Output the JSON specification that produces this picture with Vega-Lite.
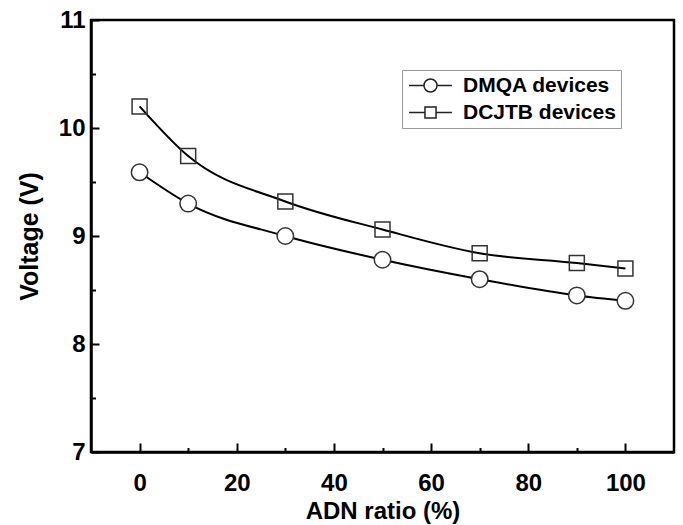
{
  "$schema": "https://vega.github.io/schema/vega-lite/v6.json",
  "autosize": {"type": "none"},
  "padding": {"left": 91, "top": 20, "right": 9, "bottom": 73},
  "width": 583,
  "height": 432,
  "background": "white",
  "config": {
    "view": {"stroke": "black", "strokeWidth": 2.5},
    "font": "Liberation Sans",
    "axis": {
      "zindex": 2,
      "ticks": true,
      "tickOpacity": 1,
      "tickColor": "black",
      "tickWidth": 2,
      "domainColor": "black",
      "domainWidth": 2.5,
      "grid": false,
      "labelFont": "Liberation Sans",
      "labelFontWeight": "bold",
      "labelFontSize": 24,
      "labelColor": "black",
      "titleFont": "Liberation Sans",
      "titleFontWeight": "bold",
      "titleFontSize": 24,
      "titleColor": "black"
    }
  },
  "data": {
    "values": [
      {"ratio": 0, "voltage": 9.59, "series": "DMQA devices"},
      {"ratio": 10, "voltage": 9.3, "series": "DMQA devices"},
      {"ratio": 30, "voltage": 9.0, "series": "DMQA devices"},
      {"ratio": 50, "voltage": 8.78, "series": "DMQA devices"},
      {"ratio": 70, "voltage": 8.6, "series": "DMQA devices"},
      {"ratio": 90, "voltage": 8.45, "series": "DMQA devices"},
      {"ratio": 100, "voltage": 8.4, "series": "DMQA devices"},
      {"ratio": 0, "voltage": 10.2, "series": "DCJTB devices"},
      {"ratio": 10, "voltage": 9.74, "series": "DCJTB devices"},
      {"ratio": 30, "voltage": 9.32, "series": "DCJTB devices"},
      {"ratio": 50, "voltage": 9.06, "series": "DCJTB devices"},
      {"ratio": 70, "voltage": 8.84, "series": "DCJTB devices"},
      {"ratio": 90, "voltage": 8.75, "series": "DCJTB devices"},
      {"ratio": 100, "voltage": 8.7, "series": "DCJTB devices"}
    ]
  },
  "encoding": {
    "x": {
      "field": "ratio",
      "type": "quantitative",
      "scale": {"domain": [-10, 110], "nice": false, "zero": false},
      "axis": {
        "title": "ADN ratio (%)",
        "values": [0, 10, 20, 30, 40, 50, 60, 70, 80, 90, 100],
        "labelExpr": "datum.value % 20 === 0 ? datum.label : ''",
        "ticks": true,
        "tickSize": -9,
        "tickDash": {"condition": {"test": "datum.value % 20 === 0", "value": [20, 0]}, "value": [4.5, 20]},
        "labelPadding": 28,
        "titlePadding": 4
      }
    },
    "y": {
      "field": "voltage",
      "type": "quantitative",
      "scale": {"domain": [7, 11], "nice": false, "zero": false},
      "axis": {
        "title": "Voltage (V)",
        "values": [7, 7.5, 8, 8.5, 9, 9.5, 10, 10.5, 11],
        "labelExpr": "datum.value % 1 === 0 ? format(datum.value, 'd') : ''",
        "ticks": true,
        "tickSize": -8,
        "tickDash": {"condition": {"test": "datum.value % 1 === 0", "value": [20, 0]}, "value": [4.5, 20]},
        "labelPadding": 14,
        "titlePadding": 16,
        "titleFontSize": 25
      }
    }
  },
  "layer": [
    {
      "mark": {"type": "line", "interpolate": "monotone", "color": "black", "strokeWidth": 2},
      "encoding": {"detail": {"field": "series"}}
    },
    {
      "mark": {"type": "point", "stroke": "#333", "strokeWidth": 1.5, "opacity": 1},
      "encoding": {
        "shape": {
          "field": "series",
          "scale": {"domain": ["DMQA devices", "DCJTB devices"], "range": ["circle", "square"]},
          "legend": null
        },
        "size": {
          "field": "series",
          "scale": {"domain": ["DMQA devices", "DCJTB devices"], "range": [272, 225]},
          "legend": null
        },
        "fill": {
          "field": "series",
          "scale": {"domain": ["DMQA devices", "DCJTB devices"], "range": ["white", "transparent"]},
          "legend": null
        }
      }
    },
    {
      "mark": {"type": "point", "opacity": 0},
      "encoding": {
        "shape": {
          "field": "series",
          "scale": {
            "domain": ["DMQA devices", "DCJTB devices"],
            "range": [
              "M-3.3,0L-1,0M1,0L3.3,0M1,0A1,1,0,1,1,-1,0A1,1,0,1,1,1,0Z",
              "M-3.3,0L-0.85,0M0.85,0L3.3,0M-0.85,-0.85L0.85,-0.85L0.85,0.85L-0.85,0.85Z"
            ]
          },
          "legend": {
            "title": null,
            "orient": "none",
            "legendX": 311,
            "legendY": 50,
            "padding": 5,
            "strokeColor": "#999",
            "fillColor": "white",
            "symbolSize": 169,
            "symbolOffset": 13,
            "symbolOpacity": 1,
            "symbolFillColor": "white",
            "symbolStrokeColor": "#222",
            "symbolStrokeWidth": 1.5,
            "labelFont": "Liberation Sans",
            "labelFontWeight": "bold",
            "labelFontSize": 21,
            "labelColor": "black",
            "labelOffset": 22,
            "labelLimit": 400,
            "rowPadding": 5
          }
        }
      }
    }
  ],
  "resolve": {"scale": {"shape": "independent"}}
}
